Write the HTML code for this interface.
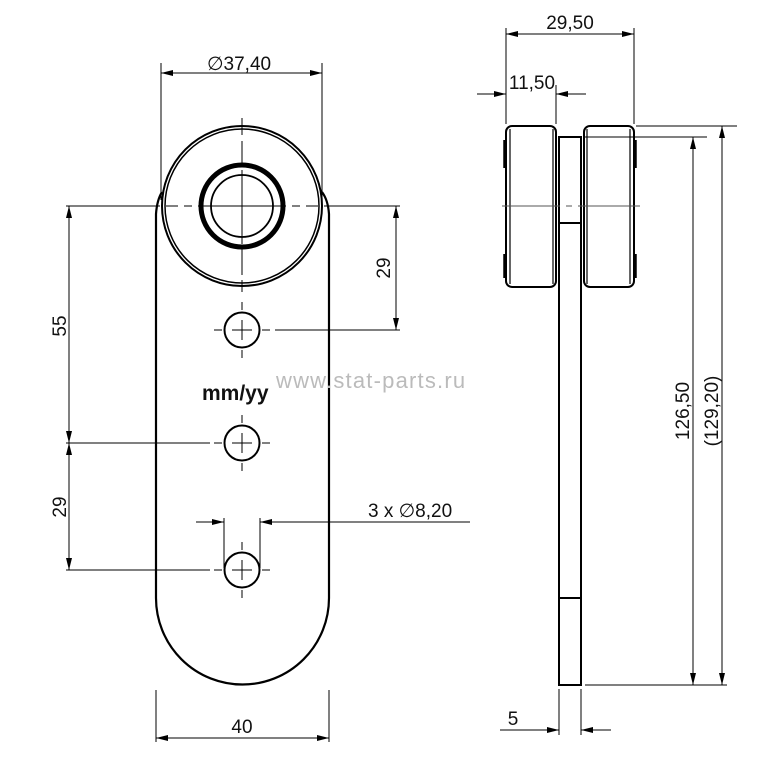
<!DOCTYPE html>
<html><head><meta charset="utf-8"><style>
html,body{margin:0;padding:0;background:#fff}
svg{display:block}
text{font-family:"Liberation Sans",sans-serif;fill:#111}
</style></head><body>
<svg width="759" height="765" viewBox="0 0 759 765" xmlns="http://www.w3.org/2000/svg">
<defs>
<marker id="a" viewBox="0 0 12 6" refX="12" refY="3" markerWidth="12" markerHeight="6" orient="auto-start-reverse" markerUnits="userSpaceOnUse"><path d="M0,0 L12,3 L0,6z" fill="#000"/></marker>
</defs>
<g fill="none" stroke="#000">
<path d="M156,240 L156,598 A86.5,86.5 0 0 0 329,598 L329,240" stroke-width="2.2"/>
<path d="M156,240 L156,214 Q157,200 162,192" stroke-width="2.2"/>
<path d="M329,240 L329,214 Q328,200 322,192" stroke-width="2.2"/>
<circle cx="242" cy="206" r="80" stroke-width="2"/>
<circle cx="242" cy="206" r="77" stroke-width="1.5"/>
<circle cx="242" cy="206" r="41" stroke-width="5"/>
<circle cx="242" cy="206" r="31" stroke-width="1.8"/>
<circle cx="242" cy="330" r="17.5" stroke-width="2"/>
<circle cx="242" cy="443" r="17.5" stroke-width="2"/>
<circle cx="242" cy="570" r="17.5" stroke-width="2"/>
<g stroke-width="1">
<path d="M242,118 V135 M242,141 V165 M242,170 V244 M242,249 V275 M242,280 V292"/>
<path d="M66,206 H160 M166,206 H178 M184,206 H192 M198,206 H286 M292,206 H300 M306,206 H318 M324,206 H400"/>
<path d="M242,302 V310 M242,320 V340 M242,350 V358 M214,330 H222 M232,330 H252 M262,330 H270 M275,330 H400"/>
<path d="M242,415 V423 M242,433 V453 M242,463 V471 M66,443 H210 M214,443 H222 M232,443 H252 M262,443 H270"/>
<path d="M242,542 V550 M242,560 V580 M242,590 V598 M66,570 H210 M214,570 H222 M232,570 H252 M262,570 H270"/>
<path d="M161,63 V200 M322,63 V200"/>
<path d="M161,73 H322" marker-start="url(#a)" marker-end="url(#a)"/>
<path d="M396,206 V330" marker-start="url(#a)" marker-end="url(#a)"/>
<path d="M69,206 V443" marker-start="url(#a)" marker-end="url(#a)"/>
<path d="M69,443 V570" marker-start="url(#a)" marker-end="url(#a)"/>
<path d="M156,690 V742 M329,690 V742"/>
<path d="M156,738 H329" marker-start="url(#a)" marker-end="url(#a)"/>
<path d="M224,518 V568 M260,518 V568"/>
<path d="M196,522 H224" marker-end="url(#a)"/>
<path d="M470,522 H260" marker-end="url(#a)"/>
</g>
<rect x="559" y="137" width="22" height="548" stroke-width="2"/>
<path d="M559,223 H581 M559,598 H581" stroke-width="2"/>
<rect x="506" y="126" width="50" height="161" rx="6" stroke-width="2"/>
<path d="M510,129 V284 M553,129 V284" stroke-width="1.2"/>
<rect x="584" y="126" width="50" height="161" rx="6" stroke-width="2"/>
<path d="M587,129 V284 M630,129 V284" stroke-width="1.2"/>
<path d="M505,140 V168 M505,254 V278 M635,140 V168 M635,254 V278" stroke-width="3.5"/>
<g stroke-width="1">
<path d="M502,206 H560 M566,206 H572 M578,206 H640" stroke="#555"/>
<path d="M506,28 V124 M634,28 V124"/>
<path d="M506,34 H634" marker-start="url(#a)" marker-end="url(#a)"/>
<path d="M556,85 V124"/>
<path d="M477,94 H506" marker-end="url(#a)"/>
<path d="M586,94 H556" marker-end="url(#a)"/>
<path d="M636,126 H737 M584,137 H707 M585,685 H727"/>
<path d="M693,137 V685" marker-start="url(#a)" marker-end="url(#a)"/>
<path d="M722,126 V685" marker-start="url(#a)" marker-end="url(#a)"/>
<path d="M559,689 V735 M581,689 V735"/>
<path d="M500,730 H559" marker-end="url(#a)"/>
<path d="M611,730 H581" marker-end="url(#a)"/>
</g>
</g>
<text x="207" y="70" font-size="19">∅37,40</text>
<text x="390" y="268" font-size="19" transform="rotate(-90 390 268)" text-anchor="middle">29</text>
<text x="66" y="326" font-size="19" transform="rotate(-90 66 326)" text-anchor="middle">55</text>
<text x="66" y="507" font-size="19" transform="rotate(-90 66 507)" text-anchor="middle">29</text>
<text x="242" y="733" font-size="19" text-anchor="middle">40</text>
<text x="368" y="517" font-size="19">3 x ∅8,20</text>
<text x="202" y="400" font-size="21" font-weight="bold">mm/yy</text>
<text x="276" y="388" font-size="22" letter-spacing="1.2" style="fill:#bbb">www.stat-parts.ru</text>
<text x="570" y="29" font-size="19" text-anchor="middle">29,50</text>
<text x="532" y="89" font-size="19" text-anchor="middle">11,50</text>
<text x="689" y="411" font-size="19" transform="rotate(-90 689 411)" text-anchor="middle">126,50</text>
<text x="718" y="411" font-size="19" transform="rotate(-90 718 411)" text-anchor="middle">(129,20)</text>
<text x="513" y="725" font-size="19" text-anchor="middle">5</text>
</svg>
</body></html>
